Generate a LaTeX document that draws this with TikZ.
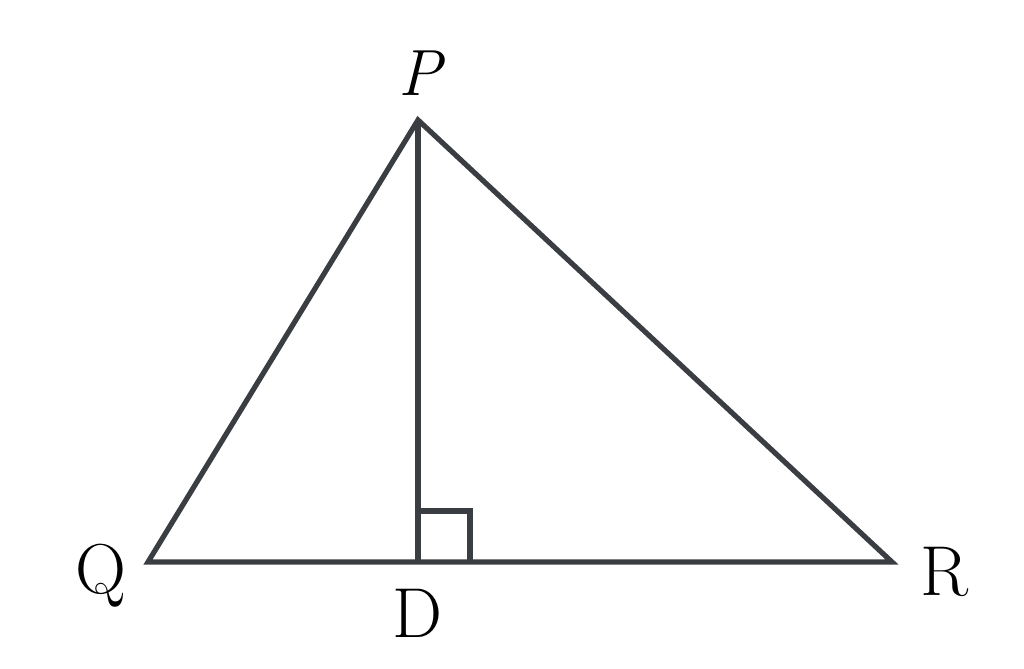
\documentclass[tikz,border=0pt]{standalone}
\begin{document}
\begin{tikzpicture}[x=0.75pt,y=-0.75pt,
  edge/.style={draw=linegray,line width=3.9pt,line join=miter},
  lbl/.style={inner sep=0pt,anchor=base,font=\fontsize{53}{60}\selectfont}]
\definecolor{linegray}{HTML}{3A3D42}
\useasboundingbox (0,0) rectangle (1024,668);
\coordinate (P) at (418,120);
\coordinate (Q) at (148,562);
\coordinate (R) at (892,562);
\coordinate (D) at (418,562);
\coordinate (S1) at (418,511);
\coordinate (S2) at (470,511);
\coordinate (S3) at (470,562);
\draw[edge] (Q) -- (P) -- (R) -- cycle;
\draw[edge] (P) -- (D);
\draw[edge] (S1) -- (S2) -- (S3);
\node[lbl,font=\fontsize{49}{56}\selectfont\itshape] (lP) at (420,95) {P};
\node[lbl] (lQ) at (101,593) {Q};
\node[lbl] (lR) at (945,595) {R};
\node[lbl] (lD) at (417,637) {D};
\end{tikzpicture}
\end{document}
